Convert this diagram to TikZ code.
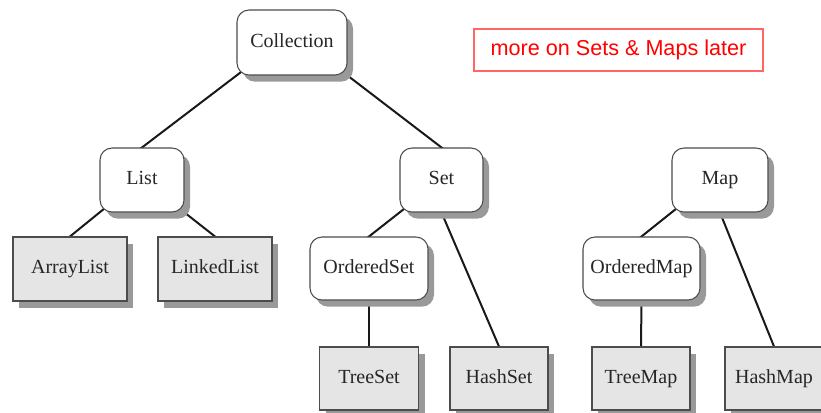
\documentclass[tikz,border=0pt]{standalone}
\usepackage{fontspec}
\setmainfont{Liberation Serif}
\newfontfamily\notefont{Liberation Sans}
\usetikzlibrary{shadows,backgrounds}

\tikzset{
  box/.style={draw=black!70, line width=0.8pt, inner sep=0pt,
    text=black!85, font=\fontsize{15}{18}\selectfont,
    text height=10.5pt, text depth=3.3pt,
    drop shadow={shadow xshift=4.5pt, shadow yshift=-5pt, fill=black!40, opacity=1}},
  iface/.style={box, fill=white, rounded corners=9pt},
  impl/.style={box, fill=black!10},
  link/.style={line width=1.5pt, black!90, shorten <=-6pt, shorten >=-3pt},
  note/.style={draw=red!60, line width=0.8pt, text=red, inner sep=0pt,
    font=\notefont\fontsize{16.2}{19}\selectfont}
}

\begin{document}
\begin{tikzpicture}[x=0.75pt,y=-0.75pt]
\useasboundingbox (0,0) rectangle (821,412);
% interfaces
\node[iface, minimum width=82.5pt, minimum height=48.75pt] (coll) at (292,42.5) {Collection};
\node[iface, minimum width=63pt, minimum height=48pt] (list) at (142,180) {List};
\node[iface, minimum width=62.25pt, minimum height=48pt] (set) at (441.5,180) {Set};
\node[iface, minimum width=72pt, minimum height=48pt] (map) at (720,180) {Map};
\node[iface, minimum width=88.5pt, minimum height=47.25pt] (oset) at (369,268.5) {OrderedSet};
\node[iface, minimum width=87.75pt, minimum height=47.25pt] (omap) at (641.5,268.5) {OrderedMap};
% classes
\node[impl, minimum width=85.5pt, minimum height=48pt] (alist) at (70,269) {ArrayList};
\node[impl, minimum width=85.5pt, minimum height=48pt] (llist) at (215,269) {LinkedList};
\node[impl, minimum width=74.25pt, minimum height=47.25pt] (tset) at (369,378.5) {TreeSet};
\node[impl, minimum width=73.5pt, minimum height=47.25pt] (hset) at (499,378.5) {HashSet};
\node[impl, minimum width=73.5pt, minimum height=47.25pt] (tmap) at (641,378.5) {TreeMap};
\node[impl, minimum width=73.5pt, minimum height=47.25pt] (hmap) at (774,378.5) {HashMap};
% remark
\node[note, minimum width=216.75pt, minimum height=31.5pt] (rem) at (618.5,50) {more on Sets \& Maps later};
% connectors
\begin{scope}[on background layer]
\draw[link] (coll.south west) -- (list.north);
\draw[link] (coll.south east) -- (set.north);
\draw[link] (list.south west) -- (alist.north);
\draw[link] (list.south east) -- (llist.north);
\draw[link] (set.south west) -- (oset.north);
\draw[link] (set.south) -- (hset.north);
\draw[link] (oset.south) -- (tset.north);
\draw[link] (map.south west) -- (omap.north);
\draw[link] (map.south) -- (hmap.north);
\draw[link] (omap.south) -- (tmap.north);
\end{scope}
\end{tikzpicture}
\end{document}
